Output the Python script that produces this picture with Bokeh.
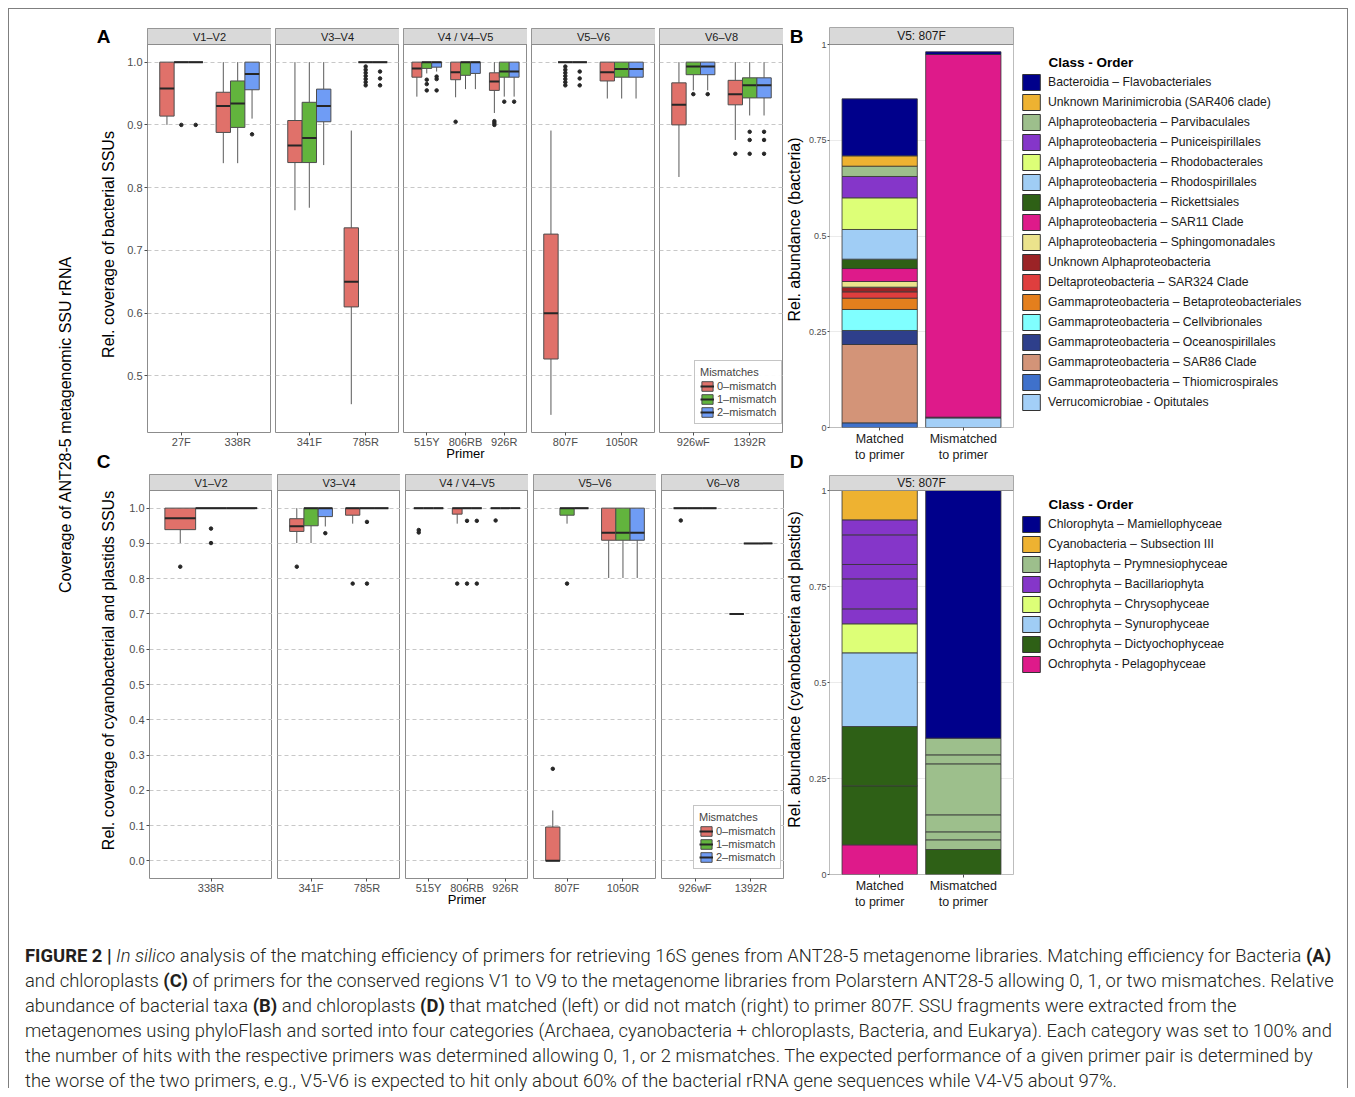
import math
from bokeh.plotting import figure
from bokeh.models import (Range1d, FixedTicker, Grid, Label, Legend, LegendItem,
                          ColumnDataSource, Div, PrintfTickFormatter)
from bokeh.layouts import row, column
from bokeh.embed import file_html
from bokeh.resources import INLINE
from bokeh.core.properties import value

FONT = "Liberation Sans"

# ------------------------------------------------------------------ data
regions = ["V1–V2", "V3–V4", "V4 / V4–V5", "V5–V6", "V6–V8"]
mismatch_labels = ["0–mismatch", "1–mismatch", "2–mismatch"]
mismatch_colors = ["#E0716A", "#62B43D", "#6F9CF5"]

# Panel A: bacteria
A_facet_primers = [["27F", "338R"], ["341F", "785R"], ["515Y", "806RB", "926R"],
                   ["807F", "1050R"], ["926wF", "1392R"]]
A_box_primer = ["27F"] * 3 + ["338R"] * 3 + ["341F"] * 3 + ["785R"] * 3 + ["515Y"] * 3 + \
               ["806RB"] * 3 + ["926R"] * 3 + ["807F"] * 3 + ["1050R"] * 3 + ["926wF"] * 3 + ["1392R"] * 3
A_box_mm = [0, 1, 2] * 11
A_ymin = [0.900, 1.000, 1.000, 0.839, 0.839, 0.910, 0.764, 0.768, 0.836, 0.455, 1.000, 1.000,
          0.945, 0.982, 0.985, 0.944, 0.957, 0.957, 0.919, 0.945, 0.945, 0.438, 1.000, 1.000,
          0.942, 0.942, 0.942, 0.817, 0.955, 0.955, 0.876, 0.915, 0.915]
A_q1 = [0.914, 1.000, 1.000, 0.888, 0.896, 0.956, 0.840, 0.840, 0.905, 0.610, 1.000, 1.000,
        0.976, 0.990, 0.992, 0.972, 0.979, 0.982, 0.955, 0.976, 0.976, 0.527, 1.000, 1.000,
        0.970, 0.976, 0.976, 0.900, 0.980, 0.980, 0.932, 0.943, 0.943]
A_med = [0.958, 1.000, 1.000, 0.930, 0.934, 0.981, 0.867, 0.879, 0.930, 0.650, 1.000, 1.000,
         0.990, 1.000, 1.000, 0.984, 1.000, 1.000, 0.969, 0.985, 0.985, 0.600, 1.000, 1.000,
         0.984, 0.989, 0.989, 0.932, 0.993, 0.993, 0.949, 0.963, 0.963]
A_q3 = [1.000, 1.000, 1.000, 0.952, 0.970, 1.000, 0.907, 0.936, 0.957, 0.736, 1.000, 1.000,
        1.000, 1.000, 1.000, 1.000, 1.000, 1.000, 0.983, 1.000, 1.000, 0.726, 1.000, 1.000,
        1.000, 1.000, 1.000, 0.967, 1.000, 1.000, 0.971, 0.975, 0.975]
A_ymax = [1.000, 1.000, 1.000, 1.000, 1.000, 1.000, 1.000, 1.000, 1.000, 0.891, 1.000, 1.000,
          1.000, 1.000, 1.000, 1.000, 1.000, 1.000, 1.000, 1.000, 1.000, 0.891, 1.000, 1.000,
          1.000, 1.000, 1.000, 1.000, 1.000, 1.000, 1.000, 1.000, 1.000]
A_out_primer = ["27F", "27F", "338R",
                "785R", "785R", "785R", "785R", "785R", "785R", "785R", "785R", "785R", "785R",
                "515Y", "515Y", "515Y", "515Y", "515Y", "515Y", "806RB",
                "926R", "926R", "926R", "926R", "926R",
                "807F", "807F", "807F", "807F", "807F", "807F", "807F", "807F", "807F", "807F",
                "926wF", "926wF", "1392R", "1392R", "1392R", "1392R", "1392R", "1392R", "1392R"]
A_out_mm = [1, 2, 2,
            1, 1, 1, 1, 1, 1, 1, 2, 2, 2,
            1, 1, 1, 2, 2, 2, 0,
            0, 0, 0, 1, 2,
            1, 1, 1, 1, 1, 1, 1, 2, 2, 2,
            1, 2, 0, 1, 1, 1, 2, 2, 2]
A_out_y = [0.900, 0.900, 0.885,
           0.993, 0.988, 0.983, 0.978, 0.973, 0.968, 0.963, 0.985, 0.974, 0.963,
           0.972, 0.965, 0.955, 0.977, 0.973, 0.955, 0.905,
           0.906, 0.903, 0.900, 0.937, 0.937,
           0.993, 0.988, 0.983, 0.978, 0.973, 0.968, 0.963, 0.985, 0.974, 0.963,
           0.949, 0.949, 0.854, 0.889, 0.876, 0.854, 0.889, 0.876, 0.854]

# Panel C: cyanobacteria and plastids
C_facet_primers = [["338R"], ["341F", "785R"], ["515Y", "806RB", "926R"],
                   ["807F", "1050R"], ["926wF", "1392R"]]
C_box_primer = ["338R"] * 3 + ["341F"] * 3 + ["785R"] * 3 + ["515Y"] * 3 + ["806RB"] * 3 + \
               ["926R"] * 3 + ["807F"] * 3 + ["1050R"] * 3 + ["926wF"] * 3 + ["1392R"] * 3
C_box_mm = [0, 1, 2] * 10
C_ymin = [0.901, 1.000, 1.000, 0.901, 0.901, 0.948, 0.956, 1.000, 1.000, 1.000, 1.000, 1.000,
          0.956, 1.000, 1.000, 1.000, 1.000, 1.000, 0.000, 0.956, 1.000, 0.802, 0.802, 0.802,
          1.000, 1.000, 1.000, 0.700, 0.900, 0.900]
C_q1 = [0.939, 1.000, 1.000, 0.934, 0.950, 0.976, 0.980, 1.000, 1.000, 1.000, 1.000, 1.000,
        0.983, 1.000, 1.000, 1.000, 1.000, 1.000, 0.000, 0.980, 1.000, 0.909, 0.909, 0.909,
        1.000, 1.000, 1.000, 0.700, 0.900, 0.900]
C_med = [0.971, 1.000, 1.000, 0.949, 1.000, 1.000, 1.000, 1.000, 1.000, 1.000, 1.000, 1.000,
         1.000, 1.000, 1.000, 1.000, 1.000, 1.000, 0.000, 1.000, 1.000, 0.930, 0.930, 0.930,
         1.000, 1.000, 1.000, 0.700, 0.900, 0.900]
C_q3 = [1.000, 1.000, 1.000, 0.970, 1.000, 1.000, 1.000, 1.000, 1.000, 1.000, 1.000, 1.000,
        1.000, 1.000, 1.000, 1.000, 1.000, 1.000, 0.096, 1.000, 1.000, 1.000, 1.000, 1.000,
        1.000, 1.000, 1.000, 0.700, 0.900, 0.900]
C_ymax = [1.000, 1.000, 1.000, 1.000, 1.000, 1.000, 1.000, 1.000, 1.000, 1.000, 1.000, 1.000,
          1.000, 1.000, 1.000, 1.000, 1.000, 1.000, 0.143, 1.000, 1.000, 1.000, 1.000, 1.000,
          1.000, 1.000, 1.000, 0.700, 0.900, 0.900]
C_out_primer = ["338R", "338R", "338R", "341F", "341F", "785R", "785R", "785R", "515Y", "515Y",
                "806RB", "806RB", "806RB", "806RB", "806RB", "926R", "807F", "807F", "926wF"]
C_out_mm = [0, 1, 1, 0, 2, 0, 1, 1, 0, 0, 0, 1, 1, 2, 2, 0, 0, 1, 0]
C_out_y = [0.834, 0.942, 0.901, 0.834, 0.929, 0.786, 0.961, 0.786, 0.938, 0.931,
           0.786, 0.964, 0.786, 0.964, 0.786, 0.965, 0.261, 0.786, 0.965]

# Panel B: bacterial taxa matched / mismatched to 807F
bar_labels = ["Matched\nto primer", "Mismatched\nto primer"]
B_taxa = ["Bacteroidia – Flavobacteriales", "Unknown Marinimicrobia (SAR406 clade)",
          "Alphaproteobacteria – Parvibaculales", "Alphaproteobacteria – Puniceispirillales",
          "Alphaproteobacteria – Rhodobacterales", "Alphaproteobacteria – Rhodospirillales",
          "Alphaproteobacteria – Rickettsiales", "Alphaproteobacteria – SAR11 Clade",
          "Alphaproteobacteria – Sphingomonadales", "Unknown Alphaproteobacteria",
          "Deltaproteobacteria – SAR324 Clade", "Gammaproteobacteria – Betaproteobacteriales",
          "Gammaproteobacteria – Cellvibrionales", "Gammaproteobacteria – Oceanospirillales",
          "Gammaproteobacteria – SAR86 Clade", "Gammaproteobacteria – Thiomicrospirales",
          "Verrucomicrobiae - Opitutales"]
B_colors = ["#00008B", "#EEB231", "#9DBF8C", "#8536C9", "#DDFF77", "#A0CDF5", "#2E6016",
            "#DE1A8A", "#EBE38C", "#9B2326", "#DF3E3E", "#E47F1D", "#80FFFF", "#2E3F8B",
            "#D39478", "#3F71CB", "#A3CFF7"]
B_seg_bar = [0] * 16 + [1] * 4
B_seg_taxon = [15, 14, 13, 12, 11, 10, 9, 8, 7, 6, 5, 4, 3, 2, 1, 0, 16, 13, 7, 0]
B_seg_value = [0.0122, 0.2045, 0.0366, 0.0548, 0.0296, 0.0165, 0.0122, 0.0148, 0.0339, 0.0244,
               0.0775, 0.0827, 0.0557, 0.0269, 0.0270, 0.1488, 0.025, 0.002, 0.947, 0.007]

# Panel D: chloroplast / cyanobacterial taxa
D_taxa = ["Chlorophyta – Mamiellophyceae", "Cyanobacteria – Subsection III",
          "Haptophyta – Prymnesiophyceae", "Ochrophyta – Bacillariophyta",
          "Ochrophyta – Chrysophyceae", "Ochrophyta – Synurophyceae",
          "Ochrophyta – Dictyochophyceae", "Ochrophyta - Pelagophyceae"]
D_colors = ["#00008B", "#EEB231", "#9DBF8C", "#8536C9", "#DDFF77", "#A0CDF5", "#2E6016", "#DE1A8A"]
D_seg_bar = [0] * 11 + [1] * 8
D_seg_taxon = [7, 6, 6, 5, 4, 3, 3, 3, 3, 3, 1, 6, 2, 2, 2, 2, 2, 2, 0]
D_seg_value = [0.0773, 0.1536, 0.1545, 0.1919, 0.0755, 0.0390, 0.0782, 0.0373, 0.0772, 0.0391,
               0.0764, 0.0651, 0.0252, 0.0208, 0.0443, 0.1328, 0.0234, 0.0434, 0.645]

A_yticks = [0.5, 0.6, 0.7, 0.8, 0.9, 1.0]
C_yticks = [0.0, 0.1, 0.2, 0.3, 0.4, 0.5, 0.6, 0.7, 0.8, 0.9, 1.0]
stack_yticks = [0, 0.25, 0.5, 0.75, 1]
stack_ylabels = ["0", "0.25", "0.5", "0.75", "1"]


# ------------------------------------------------------------------ helpers
def add_label(p, text, x, y, size, bold=False, angle=0.0, align="center", color="#000000"):
    p.add_layout(Label(x=x, y=y, x_units="screen", y_units="screen", text=text,
                       text_font=FONT, text_font_size=size,
                       text_font_style="bold" if bold else "normal",
                       angle=angle, text_align=align, text_baseline="middle",
                       text_color=color))


def blank_fig(w, h):
    p = figure(width=w, height=h, x_range=Range1d(0, 1), y_range=Range1d(0, 1),
               x_axis_location=None, y_axis_location=None, output_backend="svg",
               toolbar_location=None, min_border_left=0, min_border_right=0,
               min_border_top=0, min_border_bottom=0)
    p.outline_line_color = None
    p.xgrid.visible = False
    p.ygrid.visible = False
    return p


def box_panel(facet_primers, bp, bm, ymin, q1, med, q3, ymax, op, om, oy, yticks, L, leg_xy):
    lo = min(ymin + oy)
    hi = max(ymax + oy)
    pad = 0.05 * (hi - lo)
    y0, y1 = lo - pad, hi + pad
    sh = (y1 - y0) * L["strip"] / L["panel"]
    figs = []
    for f, (reg, prims) in enumerate(zip(regions, facet_primers)):
        n = len(prims)
        first = f == 0
        lb = L["left"] if first else L["gap"]
        p = figure(width=lb + L["fw"], height=L["top"] + L["strip"] + L["panel"] + L["bottom"],
                   x_range=Range1d(0.4, n + 0.6), y_range=Range1d(y0, y1 + sh),
                   y_axis_location="left" if first else None,
                   output_backend="svg", toolbar_location=None,
                   min_border_left=lb, min_border_right=0,
                   min_border_top=L["top"], min_border_bottom=L["bottom"])
        p.outline_line_color = "#8C8C8C"
        p.background_fill_color = "white"
        p.border_fill_color = "white"
        p.xgrid.visible = False
        p.ygrid.visible = False
        p.add_layout(Grid(dimension=1, ticker=FixedTicker(ticks=yticks),
                          grid_line_color="#C8C8C8", grid_line_dash="4 3"))
        ax = p.xaxis[0]
        ax.ticker = FixedTicker(ticks=list(range(1, n + 1)))
        ax.major_label_overrides = {i + 1: pr for i, pr in enumerate(prims)}
        ax.axis_line_color = None
        ax.major_tick_out = 3
        ax.major_tick_in = 0
        ax.minor_tick_line_color = None
        ax.major_tick_line_color = "#4D4D4D"
        ax.major_label_standoff = 0
        ax.major_label_text_font = FONT
        ax.major_label_text_font_size = "11px"
        ax.major_label_text_color = "#4D4D4D"
        if f == 2:
            ax.axis_label = "Primer"
            ax.axis_label_text_font = FONT
            ax.axis_label_text_font_size = "13px"
            ax.axis_label_text_font_style = "normal"
            ax.axis_label_text_color = "#000000"
            ax.axis_label_standoff = -5
        if first:
            yax = p.yaxis[0]
            yax.ticker = FixedTicker(ticks=yticks)
            yax.formatter = PrintfTickFormatter(format="%.1f")
            yax.axis_line_color = None
            yax.major_tick_out = 3
            yax.major_tick_in = 0
            yax.minor_tick_line_color = None
            yax.major_tick_line_color = "#4D4D4D"
            yax.major_label_standoff = 2
            yax.major_label_text_font = FONT
            yax.major_label_text_font_size = "11px"
            yax.major_label_text_color = "#4D4D4D"

        bw = 0.3 if n == 1 else 0.255
        offs = [-bw, 0.0, bw]
        rends = []
        for g in range(3):
            rows = [i for i in range(len(bp)) if bp[i] in prims and bm[i] == g]
            xs = [prims.index(bp[i]) + 1 + offs[g] for i in rows]
            src = ColumnDataSource(dict(
                x=xs, xl=[x - bw / 2 for x in xs], xr=[x + bw / 2 for x in xs],
                ymin=[ymin[i] for i in rows], q1=[q1[i] for i in rows], med=[med[i] for i in rows],
                q3=[q3[i] for i in rows], ymax=[ymax[i] for i in rows]))
            p.segment("x", "q3", "x", "ymax", source=src, line_color="#5A5A5A", line_width=1)
            p.segment("x", "ymin", "x", "q1", source=src, line_color="#5A5A5A", line_width=1)
            box = p.vbar(x="x", width=bw, bottom="q1", top="q3", source=src,
                         fill_color=mismatch_colors[g], line_color="#4D4D4D", line_width=1)
            mr = p.segment("xl", "med", "xr", "med", source=src, line_color="#262626", line_width=2)
            rends.append((box, mr))
        orows = [i for i in range(len(op)) if op[i] in prims]
        oxs = [prims.index(op[i]) + 1 + offs[om[i]] for i in orows]
        p.scatter(oxs, [oy[i] for i in orows], size=3.5, color="#262626")
        # facet strip
        p.quad(left=[0.4], right=[n + 0.6], bottom=[y1], top=[y1 + sh],
               fill_color="#D9D9D9", line_color="#8C8C8C", line_width=1)
        p.text(x=[(n + 1) / 2], y=[y1 + sh / 2], text=[reg], text_align="center",
               text_baseline="middle", text_font=value(FONT), text_font_size="11px",
               text_color="#1A1A1A")
        if f == len(regions) - 1:
            items = [LegendItem(label=mismatch_labels[g], renderers=list(rends[g])) for g in range(3)]
            leg = Legend(items=items, title="Mismatches", location=leg_xy,
                         padding=5, spacing=1, margin=0,
                         glyph_width=14, glyph_height=12, label_height=12, label_standoff=3,
                         label_text_font=FONT, label_text_font_size="11px",
                         title_text_font=FONT, title_text_font_size="11px",
                         title_text_font_style="normal", title_standoff=2,
                         border_line_color="#8C8C8C", background_fill_color="white")
            p.add_layout(leg)
        figs.append(p)
    return figs


def stack_sources(seg_bar, seg_tax, seg_val, colors):
    level = {}
    data = dict(x=[], bottom=[], top=[], color=[], taxon=[])
    for b, t, v in zip(seg_bar, seg_tax, seg_val):
        base = level.get(b, 0.0)
        level[b] = base + v
        data["x"].append(b + 1)
        data["bottom"].append(base)
        data["top"].append(base + v)
        data["color"].append(colors[t])
        data["taxon"].append(t)
    return data


def stack_panel(data, L, strip_text):
    sh = L["strip"] / L["panel"]
    p = figure(width=L["left"] + L["fw"] + L["right"],
               height=L["top"] + L["strip"] + L["panel"] + L["bottom"],
               x_range=Range1d(0.4, 2.6), y_range=Range1d(0, 1 + sh),
               output_backend="svg", toolbar_location=None,
               min_border_left=L["left"], min_border_right=L["right"],
               min_border_top=L["top"], min_border_bottom=L["bottom"])
    p.outline_line_color = "#BDBDBD"
    p.xgrid.visible = False
    p.ygrid.ticker = FixedTicker(ticks=[0.25, 0.5, 0.75])
    p.ygrid.grid_line_color = "#EBEBEB"
    p.vbar(x="x", width=0.9, bottom="bottom", top="top", fill_color="color",
           line_color="#333333", line_width=0.8, source=ColumnDataSource(data))
    p.quad(left=[0.4], right=[2.6], bottom=[1.0], top=[1 + sh],
           fill_color="#D9D9D9", line_color="#8C8C8C", line_width=1)
    p.text(x=[1.5], y=[1 + sh / 2], text=[strip_text], text_align="center",
           text_baseline="middle", text_font=value(FONT), text_font_size="12px",
           text_color="#1A1A1A")
    ax = p.xaxis[0]
    ax.ticker = FixedTicker(ticks=[1, 2])
    ax.major_label_overrides = {1: bar_labels[0], 2: bar_labels[1]}
    ax.axis_line_color = None
    ax.major_tick_out = 3
    ax.major_tick_in = 0
    ax.minor_tick_line_color = None
    ax.major_tick_line_color = "#4D4D4D"
    ax.major_label_standoff = 1
    ax.major_label_text_font = FONT
    ax.major_label_text_font_size = "12.5px"
    ax.major_label_text_color = "#1A1A1A"
    yax = p.yaxis[0]
    yax.ticker = FixedTicker(ticks=stack_yticks)
    yax.major_label_overrides = {t: s for t, s in zip(stack_yticks, stack_ylabels)}
    yax.axis_line_color = None
    yax.major_tick_out = 2
    yax.major_tick_in = 0
    yax.minor_tick_line_color = None
    yax.major_tick_line_color = "#4D4D4D"
    yax.major_label_standoff = 1
    yax.major_label_text_font = FONT
    yax.major_label_text_font_size = "9px"
    yax.major_label_text_color = "#4D4D4D"
    return p


def legend_fig(data, taxa, colors, width, height, leg_xy, title_xy):
    p = blank_fig(width, height)
    # only the legend keys are wanted here: the proxy bars lie outside this window
    p.x_range = Range1d(10, 11)
    p.y_range = Range1d(10, 11)
    items = []
    for t, (name, c) in enumerate(zip(taxa, colors)):
        idx = [i for i, tt in enumerate(data["taxon"]) if tt == t]
        src = ColumnDataSource(dict(x=[data["x"][i] for i in idx],
                                    bottom=[data["bottom"][i] for i in idx],
                                    top=[data["top"][i] for i in idx]))
        r = p.vbar(x="x", width=0.9, bottom="bottom", top="top", source=src,
                   fill_color=c, line_color="#333333", line_width=1)
        items.append(LegendItem(label=name, renderers=[r]))
    leg = Legend(items=items, location=leg_xy, margin=0, padding=0, spacing=0,
                 glyph_width=22, glyph_height=20, label_height=17, label_standoff=6,
                 label_text_font=FONT, label_text_font_size="12.2px", label_text_color="#1A1A1A",
                 border_line_color=None, background_fill_alpha=0)
    p.add_layout(leg)
    add_label(p, "Class - Order", title_xy[0], title_xy[1], "13.5px", bold=True, align="left")
    return p


# ------------------------------------------------------------------ build
LA = dict(left=26, fw=124, gap=4, top=19, strip=16, panel=388, bottom=40)
LC = dict(left=28, fw=123, gap=5, top=2, strip=16, panel=388, bottom=35)
figsA = box_panel(A_facet_primers, A_box_primer, A_box_mm, A_ymin, A_q1, A_med, A_q3, A_ymax,
                  A_out_primer, A_out_mm, A_out_y, A_yticks, LA, (35, 8))
figsC = box_panel(C_facet_primers, C_box_primer, C_box_mm, C_ymin, C_q1, C_med, C_q3, C_ymax,
                  C_out_primer, C_out_mm, C_out_y, C_yticks, LC, (32, 9))

B_data = stack_sources(B_seg_bar, B_seg_taxon, B_seg_value, B_colors)
D_data = stack_sources(D_seg_bar, D_seg_taxon, D_seg_value, D_colors)
LB = dict(left=25, fw=184, right=4, top=18, strip=17, panel=383, bottom=45)
LD = dict(left=25, fw=184, right=4, top=3, strip=15, panel=384, bottom=39)
pB = stack_panel(B_data, LB, "V5: 807F")
pD = stack_panel(D_data, LD, "V5: 807F")

legB = legend_fig(B_data, B_taxa, B_colors, 330, 463, (3, 60), (31, 410))
legD = legend_fig(D_data, D_taxa, D_colors, 330, 441, (3, 239), (31, 409))

# left strip: overall title, panel letters A/C and the y-axis titles of A and C
left = blank_fig(112, 904)
add_label(left, "Coverage of ANT28-5 metagenomic SSU rRNA", 56, 489, "16px", angle=math.pi / 2)
add_label(left, "A", 94, 877, "19px", bold=True)
add_label(left, "C", 94, 452, "19px", bold=True)
add_label(left, "Rel. coverage of bacterial SSUs", 99, 669, "16px", angle=math.pi / 2)
add_label(left, "Rel. coverage of cyanobacterial and plastids SSUs", 99, 243, "16px",
          angle=math.pi / 2)

# middle strip: panel letters B/D and the y-axis titles of B and D
mid = blank_fig(20, 904)
add_label(mid, "B", 12, 877, "19px", bold=True)
add_label(mid, "D", 12, 452, "19px", bold=True)
add_label(mid, "Rel. abundance (bacteria)", 10, 684, "16px", angle=math.pi / 2)
add_label(mid, "Rel. abundance (cyanobacteria and plastids)", 10, 244, "16px", angle=math.pi / 2)

caption_html = (
    '<div style="font-family: Roboto, \'Liberation Sans\', sans-serif; font-weight: 300; '
    'font-size: 18.4px; line-height: 25px; color: #231F20; padding: 30px 0 0 16px; '
    'white-space: nowrap;">'
    '<b style="font-weight:700">FIGURE 2 |</b> <i>In silico</i> analysis of the matching efficiency of primers '
    'for retrieving 16S genes from ANT28-5 metagenome libraries. Matching efficiency for Bacteria '
    '<b style="font-weight:700">(A)</b><br>'
    'and chloroplasts <b style="font-weight:700">(C)</b> of primers for the conserved regions V1 to V9 to the '
    'metagenome libraries from Polarstern ANT28-5 allowing 0, 1, or two mismatches. Relative<br>'
    'abundance of bacterial taxa <b style="font-weight:700">(B)</b> and chloroplasts '
    '<b style="font-weight:700">(D)</b> that matched (left) or did not match (right) to primer 807F. '
    'SSU fragments were extracted from the<br>'
    'metagenomes using phyloFlash and sorted into four categories (Archaea, cyanobacteria + '
    'chloroplasts, Bacteria, and Eukarya). Each category was set to 100% and<br>'
    'the number of hits with the respective primers was determined allowing 0, 1, or 2 mismatches. '
    'The expected performance of a given primer pair is determined by<br>'
    'the worse of the two primers, e.g., V5-V6 is expected to hit only about 60% of the bacterial '
    'rRNA gene sequences while V4-V5 about 97%.'
    '</div>')
caption = Div(text=caption_html, width=1338, height=175, margin=0)

colAC = column(row(*figsA, spacing=0), row(*figsC, spacing=0), spacing=0)
colBD = column(pB, pD, spacing=0)
colLeg = column(legB, legD, spacing=0)
top_part = row(left, colAC, mid, colBD, colLeg, spacing=0)
root = column(top_part, caption, spacing=0, margin=(8, 0, 0, 8),
              styles={"border-top": "1px solid #7F7F7F", "border-left": "1px solid #7F7F7F",
                      "border-right": "1px solid #7F7F7F"})

open("out.html", "w").write(file_html(root, INLINE))
